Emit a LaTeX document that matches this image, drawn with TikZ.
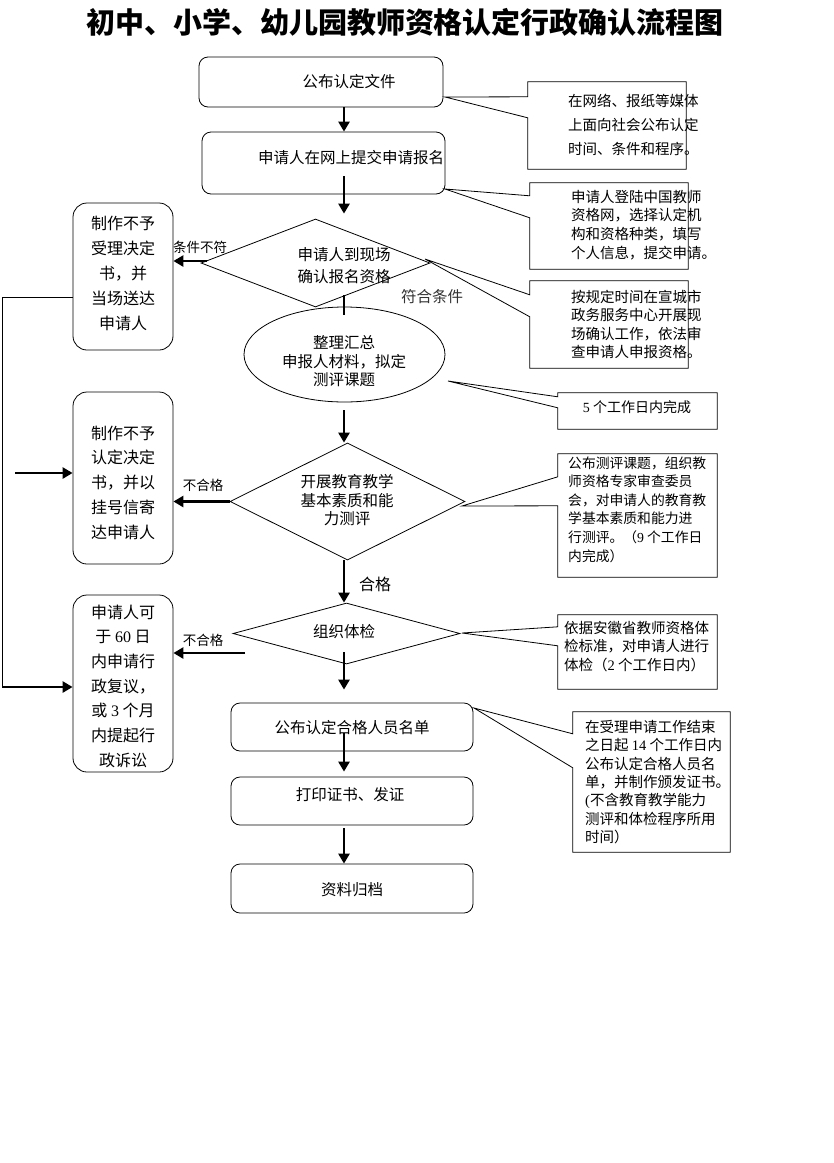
\documentclass[tikz,border=0pt]{standalone}
\usepackage{fontspec}
\newfontfamily\cjk{Noto Sans CJK SC}
\newfontfamily\lat{Liberation Serif}
\usetikzlibrary{shapes.geometric,arrows.meta,calc}
\newcommand\myfs[2]{\fontsize{#1}{#2}\selectfont\cjk}
\begin{document}
\begin{tikzpicture}[x=1pt,y=-1pt,
  shp/.style={draw, line width=0.8pt, inner sep=0pt, fill=white},
  rbox/.style={shp, rectangle, rounded corners=9pt},
  lbox/.style={shp, rectangle, rounded corners=14pt},
  dia/.style={shp, diamond},
  ell/.style={shp, ellipse},
  co/.style={rectangle, inner sep=0pt},
  txt/.style={inner sep=0pt, align=center},
  ltxt/.style={inner sep=0pt, align=left, anchor=west},
  ln/.style={line width=0.8pt},
  bar/.style={line width=2.6pt},
  arr/.style={line width=2.6pt, -{Triangle[width=11pt,length=10pt]}}]
\useasboundingbox (0,0) rectangle (834,1163);
\fill[white] (0,0) rectangle (834,1163);

% title
\node[txt, font=\myfs{29}{32}\bfseries] (title) at (405,22) {初中、小学、幼儿园教师资格认定行政确认流程图};

% main flow shapes
\node[rbox, minimum width=244, minimum height=50] (b1) at (321,82) {};
\node[rbox, minimum width=243, minimum height=62] (b2) at (323.5,163) {};
\node[dia, minimum width=229, minimum height=88] (d1) at (315.5,263) {};
\node[ell, minimum width=201, minimum height=95] (e) at (344.5,354.5) {};
\node[dia, minimum width=235, minimum height=117] (d2) at (347.5,501.5) {};
\node[dia, minimum width=227, minimum height=61] (d3) at (346.5,633.5) {};
\node[rbox, minimum width=242, minimum height=48] (b4) at (352,727) {};
\node[rbox, minimum width=242, minimum height=48] (b5) at (352,801) {};
\node[rbox, minimum width=242, minimum height=49] (b6) at (352,888.5) {};

% left boxes
\node[lbox, minimum width=100, minimum height=147] (lb1) at (123,276.5) {};
\node[lbox, minimum width=100, minimum height=172] (lb2) at (123,478) {};
\node[lbox, minimum width=100, minimum height=177] (lb3) at (123,683.5) {};

% texts of main shapes
\node[txt, font=\myfs{15.5}{20}] (t1) at (349,82) {公布认定文件};
\node[txt, font=\myfs{15.5}{20}] (t2) at (351,158) {申请人在网上提交申请报名};
\node[txt, font=\myfs{15.5}{22}] (td1) at (344,266) {申请人到现场\\确认报名资格};
\node[txt, font=\myfs{15.5}{18.5}] (te) at (344,361.5) {整理汇总\\申报人材料，拟定\\测评课题};
\node[txt, font=\myfs{15.5}{18.5}] (td2) at (347,500.5) {开展教育教学\\基本素质和能\\力测评};
\node[txt, font=\myfs{15.5}{20}] (td3) at (344,632) {组织体检};
\node[txt, font=\myfs{15.5}{20}] (t4) at (352,728) {公布认定合格人员名单};
\node[txt, font=\myfs{15.5}{20}] (t5) at (350,795) {打印证书、发证};
\node[txt, font=\myfs{15.5}{20}] (t6) at (352,890) {资料归档};

% texts of left boxes
\node[txt, font=\myfs{16}{25}] (tl1) at (123,273) {制作不予\\受理决定\\书，并\\当场送达\\申请人};
\node[txt, font=\myfs{16}{24.75}] (tl2) at (123,482.5) {制作不予\\认定决定\\书，并以\\挂号信寄\\达申请人};
\node[txt, font=\myfs{16}{24.67}] (tl3) at (123,686) {申请人可\\于 {\lat 60} 日\\内申请行\\政复议，\\或 {\lat 3} 个月\\内提起行\\政诉讼};

% branch labels
\node[txt, font=\myfs{13.5}{16}] (l1) at (200,247) {条件不符};
\node[txt, font=\myfs{15.5}{18}, text=black!80] (l2) at (432,297) {符合条件};
\node[txt, font=\myfs{13.5}{16}] (l3) at (203,485) {不合格};
\node[txt, font=\myfs{16}{18}] (l4) at (375,584) {合格};
\node[txt, font=\myfs{13.5}{16}] (l5) at (203,640) {不合格};

% connectors
\coordinate (sx) at (344,0);
\draw[arr] (sx |- b1.south) -- (sx |- b2.north);
\draw[arr] ($(sx |- b2.south)+(0,-18)$) -- ($(sx |- d1.north)+(0,-5)$);
\draw[bar] ($(sx |- d1.south)+(0,-12)$) -- ($(sx |- e.north)+(0,8)$);
\draw[arr] ($(sx |- e.south)+(0,8)$) -- (sx |- d2.north);
\draw[arr] (sx |- d2.south) -- (sx |- d3.north);
\draw[arr] ($(sx |- d3.south)+(0,-12)$) -- ($(sx |- b4.north)+(0,-13)$);
\draw[arr] ($(sx |- b4.south)+(0,-18)$) -- ($(sx |- b5.north)+(0,-5)$);
\draw[arr] ($(sx |- b5.south)+(0,3)$) -- (sx |- b6.north);

\coordinate (f1) at (207,261);
\draw[arr] (f1) -- (f1 -| lb1.east);
\draw[arr] (d2.west) -- (d2.west -| lb2.east);
\coordinate (f7) at (245,653);
\draw[arr] (f7) -- (f7 -| lb3.east);

\coordinate (k1) at ($(lb1.west)+(0,20.5)$);
\coordinate (k2) at (2,297);
\coordinate (k3) at (2,687);
\draw[ln] (k1) -- (k2) -- (k3);
\draw[arr] (k3) -- (k3 -| lb3.west);
\coordinate (f2) at (15,473);
\draw[arr] (f2) -- (f2 -| lb2.west);

% callouts
\node[co, minimum width=158, minimum height=87] (c1) at (607,125.5) {};
\node[co, minimum width=158, minimum height=86] (c2) at (609,226) {};
\node[co, minimum width=158, minimum height=87] (c3) at (609,324.5) {};
\node[co, minimum width=159, minimum height=36] (c4) at (637.5,411) {};
\node[co, minimum width=159, minimum height=123] (c5) at (637.5,515.5) {};
\node[co, minimum width=159, minimum height=74] (c6) at (637.5,652) {};
\node[co, minimum width=157, minimum height=140] (c7) at (651.5,782) {};

\coordinate (p1) at (445,97);
\coordinate (p2) at (445,189);
\coordinate (p3) at (425,259);
\coordinate (p4) at (448,381);
\coordinate (p5) at (462,506);
\coordinate (p6) at (462,633);
\coordinate (p7) at (474,708);

\foreach \c/\p/\a/\b in {c1/p1/15/36, c2/p2/13/35, c3/p3/14/36, c4/p4/4/15, c5/p5/23/52, c6/p6/12/31, c7/p7/22/56}{
  \draw[ln] (\c.north west) -- (\c.north east) -- (\c.south east) -- (\c.south west)
    -- ($(\c.north west)+(0,\b)$) -- (\p) -- ($(\c.north west)+(0,\a)$) -- cycle;
}

\node[ltxt, font=\myfs{14.5}{24}] (tc1) at (568,125) {在网络、报纸等媒体\\上面向社会公布认定\\时间、条件和程序。};
\node[ltxt, font=\myfs{14.5}{18.7}] (tc2) at (571,225) {申请人登陆中国教师\\资格网，选择认定机\\构和资格种类，填写\\个人信息，提交申请。};
\node[ltxt, font=\myfs{14.5}{18.4}] (tc3) at (571,324.5) {按规定时间在宣城市\\政务服务中心开展现\\场确认工作，依法审\\查申请人申报资格。};
\node[txt, font=\myfs{14}{18}] (tc4) at (637,407) {{\lat 5} 个工作日内完成};
\node[ltxt, font=\myfs{13.8}{18.6}] (tc5) at (568,509.5) {公布测评课题，组织教\\师资格专家审查委员\\会，对申请人的教育教\\学基本素质和能力进\\行测评。（{\lat 9} 个工作日\\内完成）};
\node[ltxt, font=\myfs{14.5}{18.5}] (tc6) at (564,646.5) {依据安徽省教师资格体\\检标准，对申请人进行\\体检（{\lat 2} 个工作日内）};
\node[ltxt, font=\myfs{14.5}{18.3}] (tc7) at (585,782) {在受理申请工作结束\\之日起 {\lat 14} 个工作日内\\公布认定合格人员名\\单，并制作颁发证书。\\{\lat (}不含教育教学能力\\测评和体检程序所用\\时间）};
\end{tikzpicture}
\end{document}
